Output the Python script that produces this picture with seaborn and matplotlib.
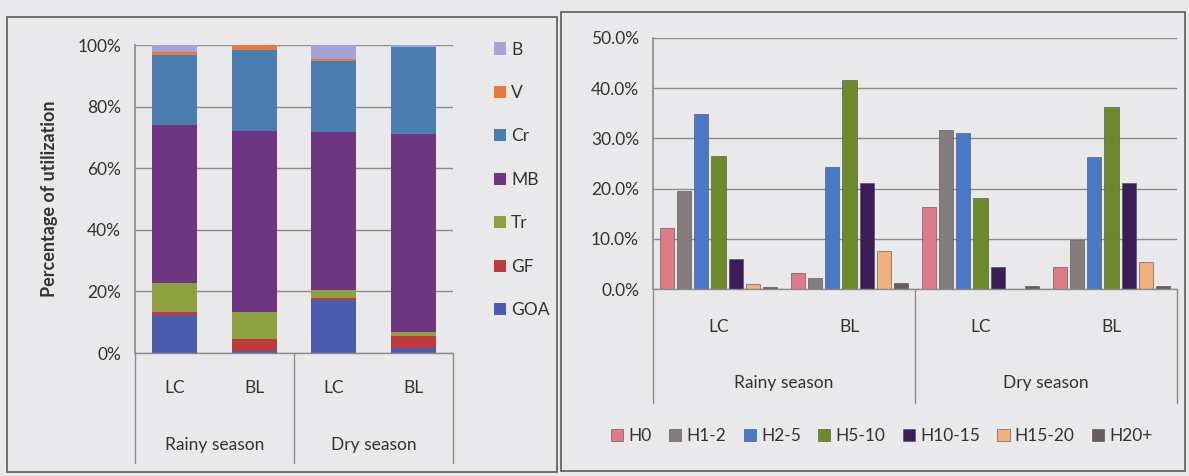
import matplotlib
matplotlib.use('Agg')
import matplotlib.pyplot as plt
from matplotlib.lines import Line2D
from matplotlib.patches import Rectangle
from matplotlib.ticker import FuncFormatter
import numpy as np
import pandas as pd
import seaborn as sns

# ---- data ----
sites = ["LC", "BL", "LC", "BL"]
seasons = ["Rainy season", "Dry season"]
bar_keys = ["Rainy LC", "Rainy BL", "Dry LC", "Dry BL"]

# left chart: percentage of utilization (stack order bottom -> top)
use_cats = ["GOA", "GF", "Tr", "MB", "Cr", "V", "B"]
goa = [12.3, 0.5, 17.2, 1.5]
gf = [1.0, 4.0, 0.5, 4.0]
tr = [9.4, 8.8, 2.8, 1.3]
mb = [51.3, 58.7, 51.3, 64.2]
cr = [22.6, 26.4, 23.0, 28.5]
v = [1.2, 1.6, 0.7, 0.0]
b = [2.2, 0.0, 4.5, 0.5]
use_colors = ["#4a5cae", "#c0393d", "#8ea03f", "#6e3680", "#4a7db0", "#e8793a", "#a7a2d6"]

# right chart: height classes
h_cats = ["H0", "H1-2", "H2-5", "H5-10", "H10-15", "H15-20", "H20+"]
h0 = [12.2, 3.2, 16.3, 4.3]
h1_2 = [19.6, 2.2, 31.7, 9.7]
h2_5 = [34.8, 24.4, 31.0, 26.3]
h5_10 = [26.5, 41.6, 18.2, 36.2]
h10_15 = [6.0, 21.1, 4.4, 21.2]
h15_20 = [1.0, 7.6, 0.0, 5.4]
h20p = [0.3, 1.1, 0.5, 0.6]
h_colors = ["#de7b86", "#857d7d", "#4a78c9", "#6c8a29", "#3a1c58", "#f1b07c", "#675d5e"]

sns.set_theme(style="white")
plt.rcParams['font.family'] = ['Lato', 'DejaVu Sans']
bg = "#e9e9eb"
grid_c = "#8e8a8c"
text_c = "#333333"

W, H = 1189, 476
fig = plt.figure(figsize=(W / 100, H / 100), dpi=100)
fig.patch.set_facecolor(bg)

def box(x0, y0, x1, y1):
    return [x0 / W, 1 - y1 / H, (x1 - x0) / W, (y1 - y0) / H]

# panel frames
for (x0, y0, x1, y1) in [(7, 17, 557, 472), (561, 12, 1185, 471)]:
    fig.patches.append(Rectangle((x0 / W, 1 - y1 / H), (x1 - x0) / W, (y1 - y0) / H,
                                 transform=fig.transFigure, fill=False,
                                 edgecolor="#5a5a5a", lw=1.2))

# ---- left: stacked percentage bars ----
ax1 = fig.add_axes(box(135, 45, 453, 353))
ax1.set_facecolor(bg)
left_df = pd.DataFrame({"bar": bar_keys, "GOA": goa, "GF": gf, "Tr": tr, "MB": mb,
                        "Cr": cr, "V": v, "B": b})
cum = left_df[use_cats].cumsum(axis=1)
for cat, col in reversed(list(zip(use_cats, use_colors))):
    sns.barplot(x=left_df["bar"], y=cum[cat], color=col, width=0.565,
                order=bar_keys, ax=ax1, label=cat, saturation=1, linewidth=0)

ax1.set_ylim(0, 100)
ax1.set_xlim(-0.5, 3.5)
ax1.set_yticks(range(0, 101, 20))
ax1.yaxis.set_major_formatter(FuncFormatter(lambda val, _: f"{val:.0f}%"))
ax1.grid(axis="y", color=grid_c, lw=1)
ax1.set_axisbelow(True)
for s in ["top", "right", "bottom"]:
    ax1.spines[s].set_visible(False)
ax1.spines["left"].set_color(grid_c)
ax1.set_xticks([])
ax1.set_xlabel("")
ax1.set_ylabel("Percentage of utilization", fontsize=13, fontweight="bold",
               color=text_c, labelpad=14)
ax1.tick_params(axis="y", labelsize=12.5, colors=text_c, length=0, pad=10)
if ax1.legend_:
    ax1.legend_.remove()

xt1 = ax1.get_xaxis_transform()
ax1.add_line(Line2D([-0.5, 3.5], [0, 0], transform=xt1, color=grid_c, lw=1, clip_on=False))
for xs in [-0.5, 1.5, 3.5]:
    ax1.add_line(Line2D([xs, xs], [0, -0.357], transform=xt1, color=grid_c, lw=1, clip_on=False))
for i, s in enumerate(sites):
    ax1.text(i, -0.114, s, transform=xt1, ha="center", va="center", fontsize=12.5, color=text_c)
for j, s in enumerate(seasons):
    ax1.text(0.5 + 2 * j, -0.30, s, transform=xt1, ha="center", va="center", fontsize=12.5, color=text_c)

h1, l1 = ax1.get_legend_handles_labels()
fig.legend(h1, l1, loc="upper left", bbox_to_anchor=(478 / W, 1 - 26 / H), frameon=False,
           fontsize=12.5, handlelength=0.7, handleheight=0.7, handletextpad=0.3,
           labelspacing=1.58, labelcolor=text_c)

# ---- right: grouped height-class bars ----
ax2 = fig.add_axes(box(653, 38, 1177, 289))
ax2.set_facecolor(bg)
right_df = pd.DataFrame({"bar": bar_keys, "H0": h0, "H1-2": h1_2, "H2-5": h2_5,
                         "H5-10": h5_10, "H10-15": h10_15, "H15-20": h15_20, "H20+": h20p})
long_df = right_df.melt(id_vars="bar", var_name="cls", value_name="pct")
long_df["pct"] = long_df["pct"] / 100
sns.barplot(data=long_df, x="bar", y="pct", hue="cls", order=bar_keys, hue_order=h_cats,
            palette=h_colors, width=0.92, gap=0.18, saturation=1, ax=ax2,
            edgecolor="#4a4a4a", linewidth=0.4)

ax2.set_ylim(0, 0.5)
ax2.set_xlim(-0.5, 3.5)
ax2.set_yticks(np.arange(0, 0.51, 0.1))
ax2.yaxis.set_major_formatter(FuncFormatter(lambda val, _: f"{val * 100:.1f}%"))
ax2.grid(axis="y", color=grid_c, lw=1)
ax2.set_axisbelow(True)
for s in ["top", "right", "bottom"]:
    ax2.spines[s].set_visible(False)
ax2.spines["left"].set_color(grid_c)
ax2.set_xticks([])
ax2.set_xlabel("")
ax2.set_ylabel("")
ax2.tick_params(axis="y", labelsize=12.5, colors=text_c, length=0, pad=10)

xt2 = ax2.get_xaxis_transform()
ax2.add_line(Line2D([-0.5, 3.5], [0, 0], transform=xt2, color=grid_c, lw=1, clip_on=False))
for xs in [-0.5, 1.5, 3.5]:
    ax2.add_line(Line2D([xs, xs], [0, -0.454], transform=xt2, color=grid_c, lw=1, clip_on=False))
for i, s in enumerate(sites):
    ax2.text(i, -0.151, s, transform=xt2, ha="center", va="center", fontsize=12.5, color=text_c)
for j, s in enumerate(seasons):
    ax2.text(0.5 + 2 * j, -0.375, s, transform=xt2, ha="center", va="center", fontsize=12.5, color=text_c)

h2, l2 = ax2.get_legend_handles_labels()
ax2.legend_.remove()
fig.legend(h2, l2, loc="center", bbox_to_anchor=(882 / W, 1 - 436 / H), ncol=7, frameon=False,
           fontsize=12.5, handlelength=0.7, handleheight=0.7, handletextpad=0.3,
           columnspacing=1.0, labelcolor=text_c)

fig.savefig("out.png", dpi=100, facecolor=bg)
